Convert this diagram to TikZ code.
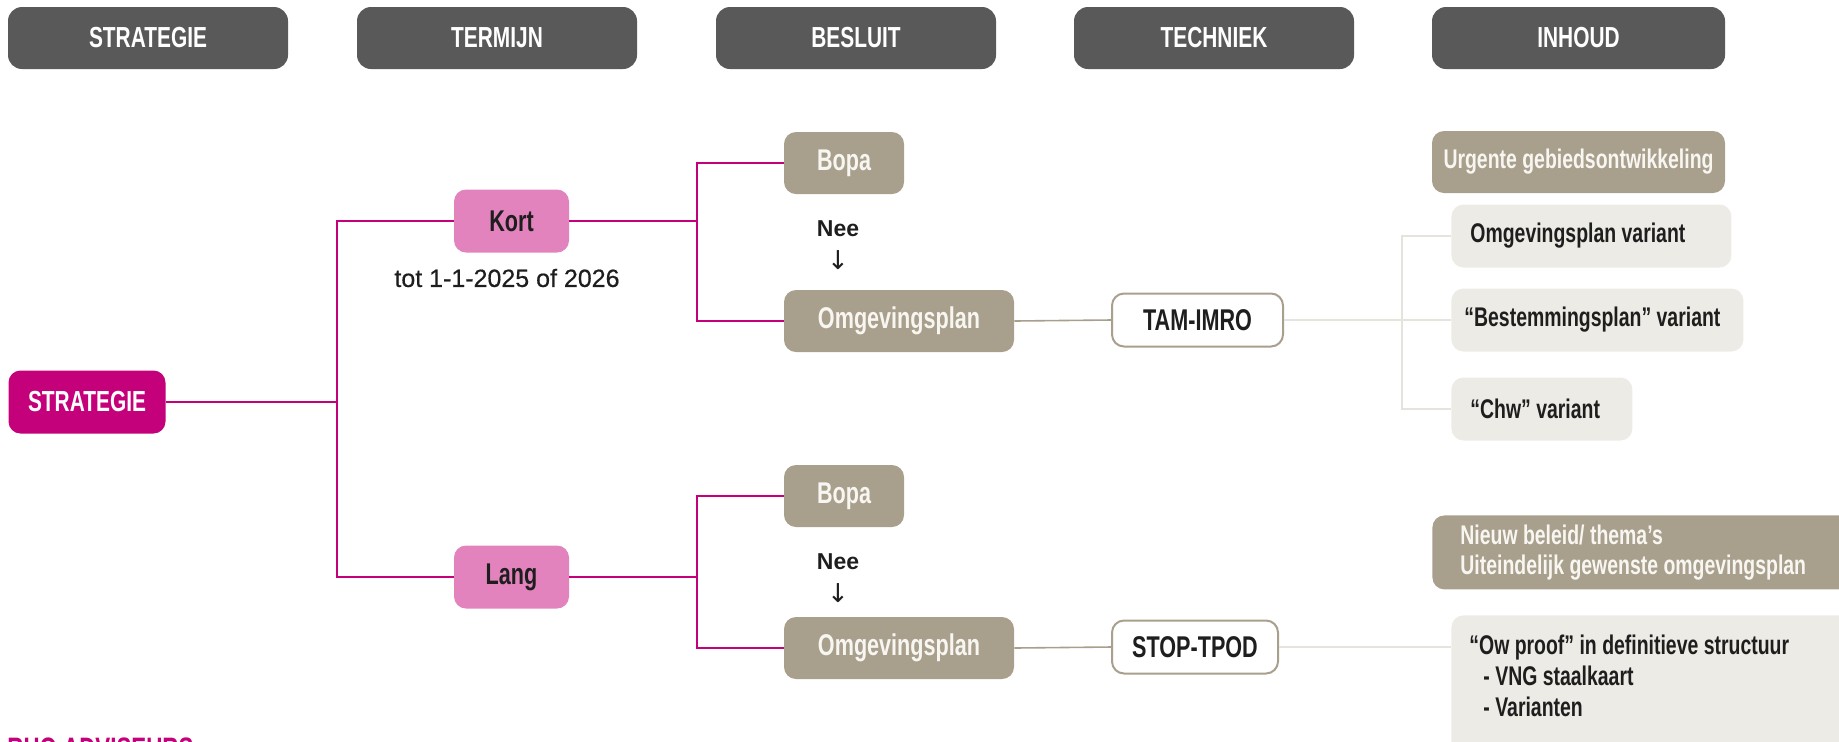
\documentclass[tikz,border=0pt]{standalone}
\usepackage{fontspec}
\setmainfont{Liberation Sans}
\newfontfamily\condfont[FakeStretch=0.72]{Liberation Sans}
\newfontfamily\medfont[FakeBold=0.5]{Liberation Sans}
\newfontfamily\arrowfont{DejaVu Sans}

\definecolor{headgrey}{HTML}{595959}
\definecolor{rhomagenta}{HTML}{C5007B}
\definecolor{rhopink}{HTML}{E383BE}
\definecolor{taupe}{HTML}{A99F8D}
\definecolor{lightbox}{HTML}{EDEBE6}
\definecolor{lightline}{HTML}{E6E3DD}
\definecolor{darktext}{HTML}{1E1E1E}
\definecolor{paletext}{HTML}{F8F6F1}

\tikzset{
  header/.style={rectangle, rounded corners=7pt, fill=headgrey, text=white,
    minimum width=#1, minimum height=31pt, inner sep=0pt,
    font=\condfont\bfseries\fontsize{14.5}{17}\selectfont},
  header/.default=140pt,
  rootbox/.style={rectangle, rounded corners=6pt, fill=rhomagenta, text=white,
    minimum width=78.5pt, minimum height=31.5pt, inner sep=0pt,
    font=\condfont\bfseries\fontsize{14.5}{17}\selectfont},
  termbox/.style={rectangle, rounded corners=6pt, fill=rhopink, text=darktext,
    minimum width=57.5pt, minimum height=31.5pt, inner sep=0pt,
    font=\condfont\bfseries\fontsize{15}{18}\selectfont},
  besluitbox/.style={rectangle, rounded corners=6pt, fill=taupe, text=paletext,
    minimum width=#1, minimum height=31pt, inner sep=0pt,
    font=\condfont\bfseries\fontsize{15}{18}\selectfont},
  techbox/.style={rectangle, rounded corners=6pt, draw=taupe, line width=1pt,
    fill=white, text=darktext, minimum width=#1, minimum height=26.5pt,
    inner sep=0pt, font=\condfont\bfseries\fontsize{15}{18}\selectfont},
  inhoudbox/.style={rectangle, rounded corners=6pt, fill=lightbox, text=darktext,
    anchor=west, text width=#1, align=flush left, inner xsep=9.5pt, inner ysep=0pt,
    minimum height=31.5pt,
    execute at begin node={\hyphenpenalty=10000\exhyphenpenalty=10000},
    font=\condfont\bfseries\fontsize{13.5}{16}\selectfont},
  topicbox/.style={rectangle, rounded corners=6pt, fill=taupe, text=paletext,
    inner sep=0pt, font=\condfont\bfseries\fontsize{13.5}{15}\selectfont},
  neetext/.style={inner sep=0pt, text=darktext,
    font=\bfseries\fontsize{11.5}{13}\selectfont},
  pinkline/.style={draw=rhomagenta, line width=1pt},
  taupeline/.style={draw=taupe, line width=0.8pt},
  greyline/.style={draw=lightline, line width=1pt},
}

\begin{document}
\begin{tikzpicture}[x=0.5pt,y=0.5pt,yscale=-1,xscale=1]
\useasboundingbox (0,0) rectangle (1839,741);

% Header row
\node[header] (hstrategie) at (148,38) {STRATEGIE};
\node[header] (htermijn) at (497,38) {TERMIJN};
\node[header] (hbesluit) at (856,38) {BESLUIT};
\node[header] (htechniek) at (1214,38) {TECHNIEK};
\node[header=146.5pt] (hinhoud) at (1578.5,38) {INHOUD};

% Strategie and termijn
\node[rootbox] (strategie) at (87,402) {STRATEGIE};
\node[termbox] (kort) at (511.5,221) {Kort};
\node[termbox] (lang) at (511.5,577) {Lang};
\node[inner sep=0pt, text=darktext, font=\medfont\fontsize{12.5}{15}\selectfont] (totdatum) at (507,278) {tot 1-1-2025 of 2026};
\coordinate (trunk) at (337,402);
\draw[pinkline] (strategie.east) -- (trunk);
\draw[pinkline] (kort.west) -| (trunk) |- (lang.west);

% Besluit, kort
\node[besluitbox=60pt] (bopakort) at (844,163) {Bopa};
\node[besluitbox=115pt] (omgkort) at (899,321) {Omgevingsplan};
\node[neetext] (neekort) at (838,229) {Nee};
\node[inner sep=0pt, text=darktext, font=\arrowfont\fontsize{13}{15}\selectfont] (pijlkort) at (838,260) {↓};
\coordinate (kortsplit) at (697,221);
\draw[pinkline] (kort.east) -- (kortsplit);
\draw[pinkline] (bopakort.west) -| (kortsplit) |- (omgkort.west);

% Besluit, lang
\node[besluitbox=60pt] (bopalang) at (844,496) {Bopa};
\node[besluitbox=115pt] (omglang) at (899,648) {Omgevingsplan};
\node[neetext] (neelang) at (838,562) {Nee};
\node[inner sep=0pt, text=darktext, font=\arrowfont\fontsize{13}{15}\selectfont] (pijllang) at (838,593) {↓};
\coordinate (langsplit) at (697,577);
\draw[pinkline] (lang.east) -- (langsplit);
\draw[pinkline] (bopalang.west) -| (langsplit) |- (omglang.west);

% Techniek
\node[techbox=85.5pt] (tamimro) at (1197.5,320) {TAM-IMRO};
\node[techbox=83pt] (stoptpod) at (1195,647) {STOP-TPOD};
\draw[taupeline] (omgkort.east) -- (tamimro.west);
\draw[taupeline] (omglang.east) -- (stoptpod.west);

% Inhoud, kort
\node[topicbox, minimum width=146.5pt, minimum height=31pt] (urgent) at (1578.5,162) {Urgente gebiedsontwikkeling};
\node[inhoudbox=121pt] (ovariant) at (1451,236) {Omgevingsplan variant};
\node[inhoudbox=133pt, inner xsep=6.5pt] (bvariant) at (1451,320) {“Bestemmingsplan” variant};
\node[inhoudbox=71.5pt] (cvariant) at (1451,409) {“Chw” variant};
\coordinate (varsplit) at (1402,320);
\draw[greyline] (tamimro.east) -- (bvariant.west);
\draw[greyline] (ovariant.west) -| (varsplit) |- (cvariant.west);

% Inhoud, lang
\node[topicbox, anchor=north west, text width=190pt, align=flush left, inner xsep=14pt,
  minimum height=37pt] (nieuwbeleid) at (1432,515)
  {Nieuw beleid/ thema’s\\Uiteindelijk gewenste omgevingsplan};
\node[inhoudbox=190pt, anchor=north west, inner xsep=9pt, inner ysep=10pt,
  text depth=70pt, font=\condfont\bfseries\fontsize{13.5}{15.5}\selectfont] (owproof) at (1451,615)
  {“Ow proof” in definitieve structuur\\
   \hspace*{7pt}- VNG staalkaart\\
   \hspace*{7pt}- Varianten};
\draw[greyline] (stoptpod.east) -- (stoptpod.east -| owproof.west);

% Logo, cut off at the bottom
\node[anchor=north west, inner sep=0pt, text=rhomagenta,
  font=\condfont\bfseries\fontsize{15.5}{18}\selectfont] (logo) at (7,737) {RHO ADVISEURS};
\end{tikzpicture}
\end{document}
